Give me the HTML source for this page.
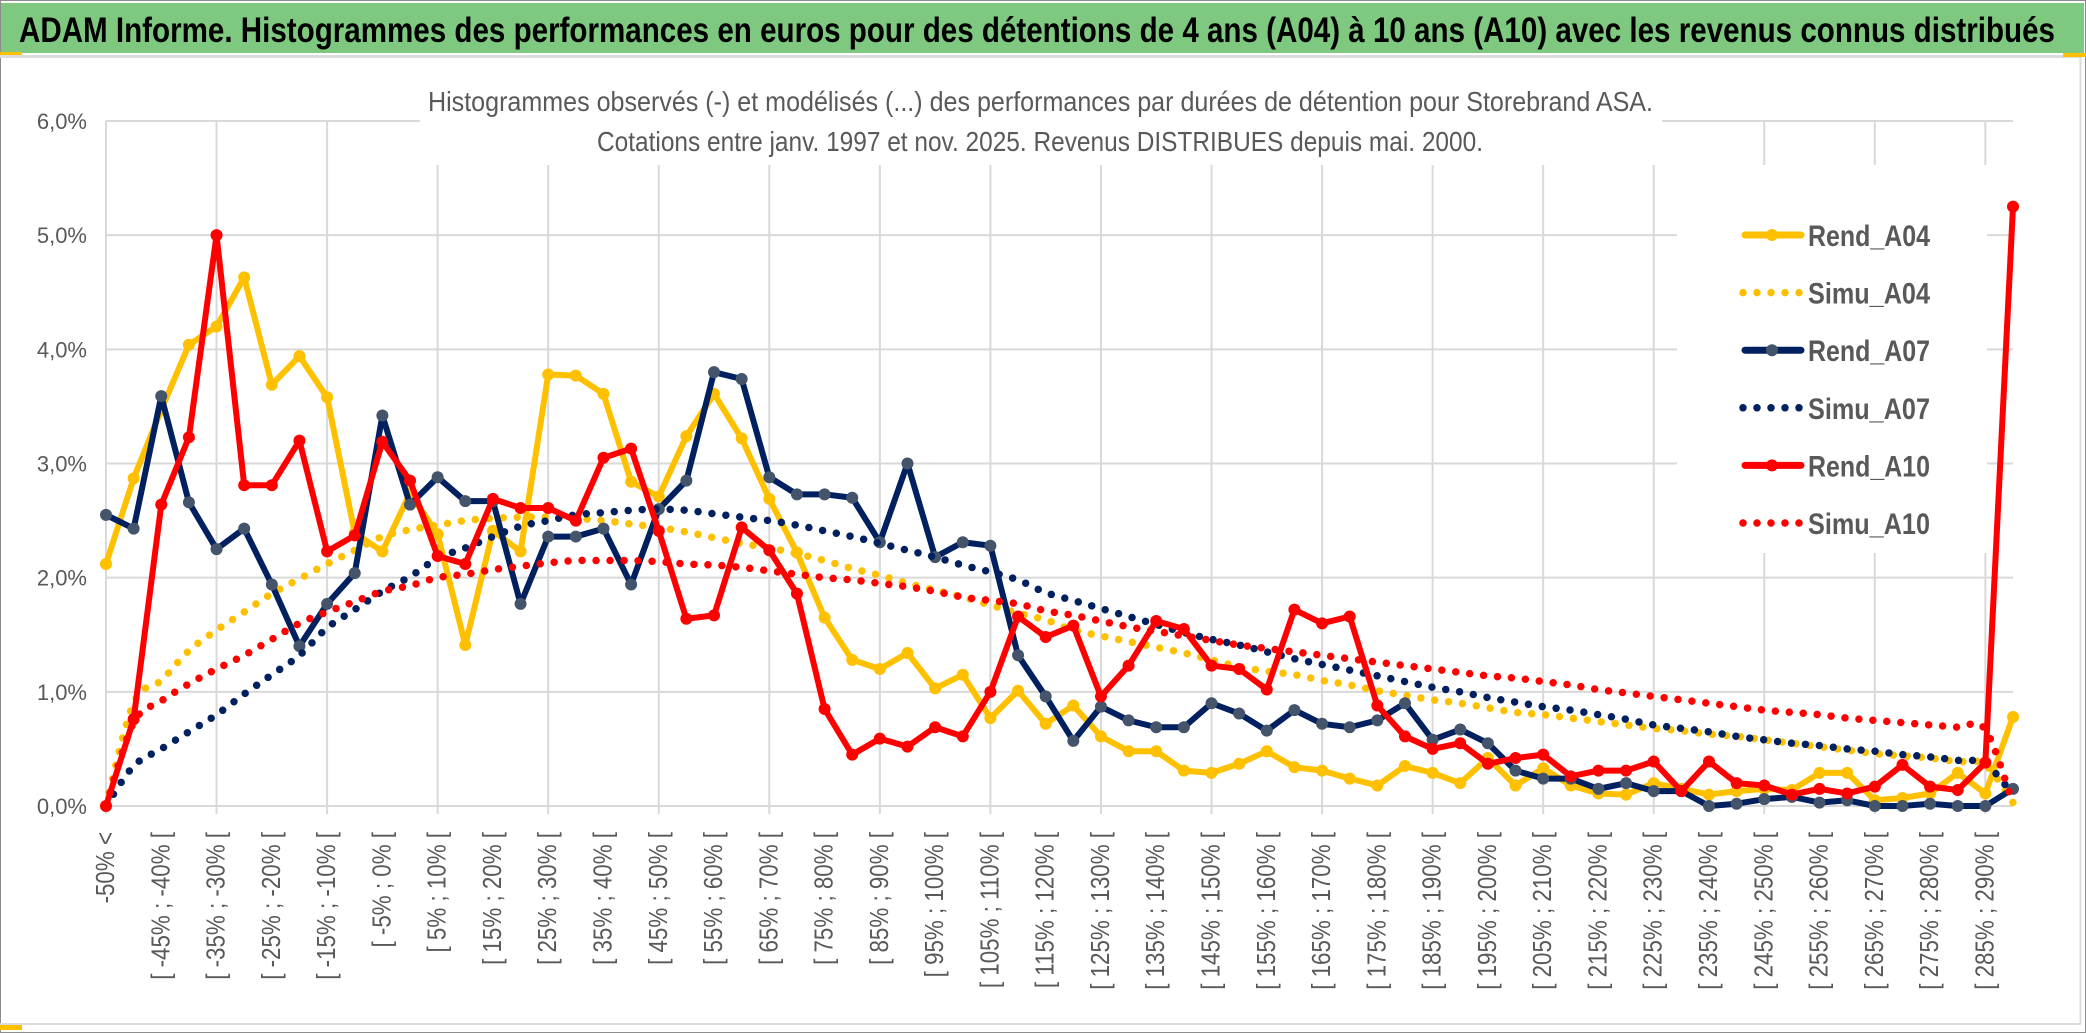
<!DOCTYPE html>
<html><head><meta charset="utf-8">
<style>
html,body{margin:0;padding:0;background:#fff;}
svg{display:block;}
text{font-family:"Liberation Sans",sans-serif;}
</style></head>
<body>
<svg id="chart" width="2086" height="1033" viewBox="0 0 2086 1033" xmlns="http://www.w3.org/2000/svg">
  <rect x="0" y="0" width="2086" height="1033" fill="#ffffff"/>
  <rect x="0.5" y="0.5" width="2085" height="1032" fill="none" stroke="#8c8c8c" stroke-width="1"/>
  <rect x="1" y="3" width="2083" height="50" fill="#7ec87f"/>
  <rect x="0" y="52" width="22" height="3" fill="#ffc000"/>
  <rect x="0" y="55" width="2082" height="3" fill="#dcdcdc"/>
  <rect x="2063" y="53" width="23" height="4" fill="#ffc000"/>
  <line x1="2080.5" y1="58" x2="2080.5" y2="1024" stroke="#dcdcdc" stroke-width="2"/>
  <line x1="0" y1="1024" x2="2081" y2="1024" stroke="#dcdcdc" stroke-width="2"/>
  <rect x="0" y="1025" width="22" height="5" fill="#ffc000"/>
  <text x="19" y="42" font-size="35" font-weight="bold" fill="#000" textLength="2036" lengthAdjust="spacingAndGlyphs">ADAM Informe. Histogrammes des performances en euros pour des détentions de 4 ans (A04) à 10 ans (A10) avec les revenus connus distribués</text>
  <g id="grid"></g>
  <rect x="420" y="62" width="1242" height="103" fill="#fff"/>
  <rect x="1677" y="165" width="310" height="388" fill="#fff"/>
  <text x="428" y="111" font-size="28" fill="#595959" textLength="1225" lengthAdjust="spacingAndGlyphs">Histogrammes observés (-) et modélisés (...) des performances par durées de détention pour Storebrand ASA.</text>
  <text x="597" y="151" font-size="28" fill="#595959" textLength="886" lengthAdjust="spacingAndGlyphs">Cotations entre janv. 1997 et nov. 2025. Revenus DISTRIBUES depuis mai. 2000.</text>
  <g id="yaxis"></g>
  <g id="xaxis"></g>
  <g id="series"></g>
  <g id="legend"></g>
</svg>
<script>
const categories = ["-50% <","[ -50% ; -45% [","[ -45% ; -40% [","[ -40% ; -35% [","[ -35% ; -30% [","[ -30% ; -25% [","[ -25% ; -20% [","[ -20% ; -15% [","[ -15% ; -10% [","[ -10% ; -5% [",
"[ -5% ; 0% [","[ 0% ; 5% [","[ 5% ; 10% [","[ 10% ; 15% [","[ 15% ; 20% [","[ 20% ; 25% [","[ 25% ; 30% [","[ 30% ; 35% [","[ 35% ; 40% [","[ 40% ; 45% [",
"[ 45% ; 50% [","[ 50% ; 55% [","[ 55% ; 60% [","[ 60% ; 65% [","[ 65% ; 70% [","[ 70% ; 75% [","[ 75% ; 80% [","[ 80% ; 85% [","[ 85% ; 90% [","[ 90% ; 95% [",
"[ 95% ; 100% [","[ 100% ; 105% [","[ 105% ; 110% [","[ 110% ; 115% [","[ 115% ; 120% [","[ 120% ; 125% [","[ 125% ; 130% [","[ 130% ; 135% [","[ 135% ; 140% [","[ 140% ; 145% [",
"[ 145% ; 150% [","[ 150% ; 155% [","[ 155% ; 160% [","[ 160% ; 165% [","[ 165% ; 170% [","[ 170% ; 175% [","[ 175% ; 180% [","[ 180% ; 185% [","[ 185% ; 190% [","[ 190% ; 195% [",
"[ 195% ; 200% [","[ 200% ; 205% [","[ 205% ; 210% [","[ 210% ; 215% [","[ 215% ; 220% [","[ 220% ; 225% [","[ 225% ; 230% [","[ 230% ; 235% [","[ 235% ; 240% [","[ 240% ; 245% [",
"[ 245% ; 250% [","[ 250% ; 255% [","[ 255% ; 260% [","[ 260% ; 265% [","[ 265% ; 270% [","[ 270% ; 275% [","[ 275% ; 280% [","[ 280% ; 285% [","[ 285% ; 290% [","[ 290% ; 295% ["];
const yTicks = [0,1,2,3,4,5,6];
const yTickLabels = ["0,0%","1,0%","2,0%","3,0%","4,0%","5,0%","6,0%"];
const rendA04 = [2.12,2.87,3.47,4.04,4.20,4.63,3.69,3.94,3.58,2.39,2.23,2.74,2.38,1.41,2.41,2.23,3.78,3.77,3.61,2.84,2.71,3.24,3.61,3.22,2.69,2.22,1.65,1.28,1.20,1.34,1.03,1.15,0.77,1.01,0.72,0.88,0.61,0.48,0.48,0.31,0.29,0.37,0.48,0.34,0.31,0.24,0.18,0.35,0.29,0.20,0.42,0.18,0.33,0.18,0.11,0.10,0.20,0.15,0.10,0.13,0.15,0.14,0.29,0.29,0.05,0.07,0.11,0.29,0.11,0.78];
const simuA04 = [0,0.90,1.10,1.36,1.54,1.70,1.86,1.99,2.12,2.24,2.36,2.42,2.46,2.50,2.52,2.53,2.53,2.52,2.50,2.47,2.44,2.40,2.35,2.30,2.26,2.21,2.15,2.08,2.02,1.95,1.89,1.83,1.76,1.69,1.63,1.54,1.49,1.44,1.39,1.34,1.28,1.22,1.18,1.15,1.10,1.06,1.01,0.97,0.93,0.90,0.86,0.82,0.80,0.77,0.74,0.71,0.68,0.66,0.63,0.61,0.58,0.55,0.52,0.49,0.46,0.44,0.42,0.39,0.36,0.03];
const rendA07 = [2.55,2.43,3.59,2.66,2.25,2.43,1.94,1.40,1.77,2.04,3.42,2.64,2.88,2.67,2.67,1.77,2.36,2.36,2.43,1.94,2.60,2.85,3.80,3.74,2.88,2.73,2.73,2.70,2.31,3.00,2.18,2.31,2.28,1.32,0.96,0.57,0.87,0.75,0.69,0.69,0.90,0.81,0.66,0.84,0.72,0.69,0.75,0.90,0.58,0.67,0.55,0.31,0.24,0.24,0.15,0.20,0.13,0.13,0.00,0.02,0.06,0.08,0.03,0.05,0.00,0.00,0.02,0.00,0.00,0.15];
const simuA07 = [0,0.35,0.50,0.65,0.80,0.98,1.15,1.32,1.56,1.72,1.88,2.01,2.17,2.26,2.36,2.45,2.50,2.55,2.57,2.59,2.60,2.59,2.56,2.53,2.50,2.46,2.41,2.36,2.30,2.24,2.18,2.11,2.05,1.98,1.87,1.80,1.73,1.66,1.59,1.52,1.46,1.41,1.35,1.29,1.24,1.19,1.14,1.09,1.04,1.00,0.95,0.91,0.87,0.84,0.80,0.76,0.71,0.68,0.65,0.61,0.58,0.55,0.53,0.50,0.48,0.45,0.43,0.40,0.37,0.10];
const rendA10 = [0.00,0.76,2.64,3.23,5.00,2.81,2.81,3.20,2.23,2.37,3.19,2.85,2.19,2.12,2.69,2.61,2.61,2.50,3.05,3.13,2.41,1.64,1.67,2.44,2.24,1.86,0.85,0.45,0.59,0.52,0.69,0.61,1.00,1.66,1.48,1.58,0.96,1.23,1.62,1.55,1.23,1.20,1.02,1.72,1.60,1.66,0.88,0.61,0.50,0.55,0.37,0.42,0.45,0.26,0.31,0.31,0.39,0.13,0.39,0.20,0.18,0.10,0.15,0.11,0.17,0.36,0.17,0.14,0.38,5.25];
const simuA10 = [0,0.73,0.92,1.07,1.20,1.32,1.46,1.60,1.70,1.79,1.88,1.93,2.00,2.03,2.07,2.10,2.13,2.15,2.15,2.15,2.14,2.12,2.11,2.09,2.06,2.03,2.00,1.98,1.95,1.92,1.88,1.83,1.80,1.77,1.71,1.67,1.62,1.57,1.53,1.49,1.45,1.41,1.38,1.35,1.32,1.29,1.26,1.23,1.20,1.17,1.14,1.12,1.09,1.06,1.02,0.99,0.96,0.93,0.90,0.87,0.84,0.82,0.80,0.77,0.75,0.73,0.71,0.69,0.67,0.02];
const seriesNames = ["Rend_A04","Simu_A04","Rend_A07","Simu_A07","Rend_A10","Simu_A10"];

const NS = "http://www.w3.org/2000/svg";
const X0 = 106, X1 = 2013, Y0 = 806, YTOP = 121, YMAX = 6;
const n = categories.length;
function xAt(i){ return X0 + i * (X1 - X0) / (n - 1); }
function yAt(v){ return Y0 - v / YMAX * (Y0 - YTOP); }
function mk(tag, attrs, parent){ const e = document.createElementNS(NS, tag); for (const k in attrs) e.setAttribute(k, attrs[k]); parent.appendChild(e); return e; }

const grid = document.getElementById('grid');
yTicks.forEach(function(t){
  const l = mk('line', {x1: X0, x2: X1, y1: yAt(t), y2: yAt(t), stroke: '#d9d9d9', 'stroke-width': 2}, grid);
  
  
});
for (let i = 0; i < n; i += 4) {
  const l = mk('line', {x1: xAt(i), x2: xAt(i), y1: YTOP, y2: Y0 + 8, stroke: '#d9d9d9', 'stroke-width': 2}, grid);
  
  
}

const yaxis = document.getElementById('yaxis');
yTicks.forEach(function(t, k){
  const tx = mk('text', {x: 87, y: yAt(t) + 8, 'font-size': 22, fill: '#595959', 'text-anchor': 'end'}, yaxis);
  tx.textContent = yTickLabels[k];
  
  
});

const xaxis = document.getElementById('xaxis');
for (let i = 0; i < n; i += 2) {
  const g = mk('g', {transform: 'translate(' + xAt(i) + ',832) rotate(-90) scale(0.86,1)'}, xaxis);
  const tx = mk('text', {x: 0, y: 8, 'font-size': 26, fill: '#595959', 'text-anchor': 'end'}, g);
  tx.textContent = categories[i];
  
  
}

const layer = document.getElementById('series');
function smoothPath(vals){
  const p = vals.map(function(v, i){ return [xAt(i), yAt(v)]; });
  let d = 'M' + p[0][0] + ',' + p[0][1];
  for (let i = 0; i < p.length - 1; i++) {
    const a = p[Math.max(i - 1, 0)], b = p[i], c = p[i + 1], e = p[Math.min(i + 2, p.length - 1)];
    const c1x = b[0] + (c[0] - a[0]) / 6, c1y = b[1] + (c[1] - a[1]) / 6;
    const c2x = c[0] - (e[0] - b[0]) / 6, c2y = c[1] - (e[1] - b[1]) / 6;
    d += ' C' + c1x + ',' + c1y + ' ' + c2x + ',' + c2y + ' ' + c[0] + ',' + c[1];
  }
  return d;
}
function drawRend(vals, color, mcolor, name){
  const g = mk('g', {}, layer);
  
  
  const pts = vals.map(function(v, i){ return xAt(i) + ',' + yAt(v); }).join(' ');
  const pl = mk('polyline', {points: pts, fill: 'none', stroke: color, 'stroke-width': 6, 'stroke-linejoin': 'round', 'stroke-linecap': 'round'}, g);
  
  
  vals.forEach(function(v, i){
    const c = mk('circle', {cx: xAt(i), cy: yAt(v), r: 6, fill: mcolor}, g);
    
    
  });
}
function drawSimu(vals, color, name){
  const p = mk('path', {d: smoothPath(vals), fill: 'none', stroke: color, 'stroke-width': 7.5, 'stroke-dasharray': '0 14', 'stroke-linecap': 'round'}, layer);
  
  
}
drawRend(rendA04, '#ffc000', '#ffc000', 'rend-a04');
drawSimu(simuA04, '#ffc000', 'simu-a04');
drawRend(rendA07, '#002060', '#44546a', 'rend-a07');
drawSimu(simuA07, '#002060', 'simu-a07');
drawRend(rendA10, '#ff0000', '#ff0000', 'rend-a10');
drawSimu(simuA10, '#ff0000', 'simu-a10');

const legend = document.getElementById('legend');
const legColors = ['#ffc000','#ffc000','#002060','#002060','#ff0000','#ff0000'];
const legMarker = ['#ffc000',null,'#44546a',null,'#ff0000',null];
seriesNames.forEach(function(nm, k){
  const y = 235 + k * 57.6;
  const g = mk('g', {}, legend);
  
  
  if (legMarker[k]) {
    mk('line', {x1: 1745, x2: 1801, y1: y, y2: y, stroke: legColors[k], 'stroke-width': 7, 'stroke-linecap': 'round'}, g);
    mk('circle', {cx: 1772, cy: y, r: 6, fill: legMarker[k]}, g);
  } else {
    mk('line', {x1: 1743, x2: 1803, y1: y, y2: y, stroke: legColors[k], 'stroke-width': 7.5, 'stroke-dasharray': '0 14', 'stroke-linecap': 'round'}, g);
  }
  const tx = mk('text', {x: 1808, y: y + 11, 'font-size': 30, 'font-weight': 'bold', fill: '#595959', textLength: 122, lengthAdjust: 'spacingAndGlyphs'}, g);
  tx.textContent = nm;
  
  
});
</script>
</body></html>
